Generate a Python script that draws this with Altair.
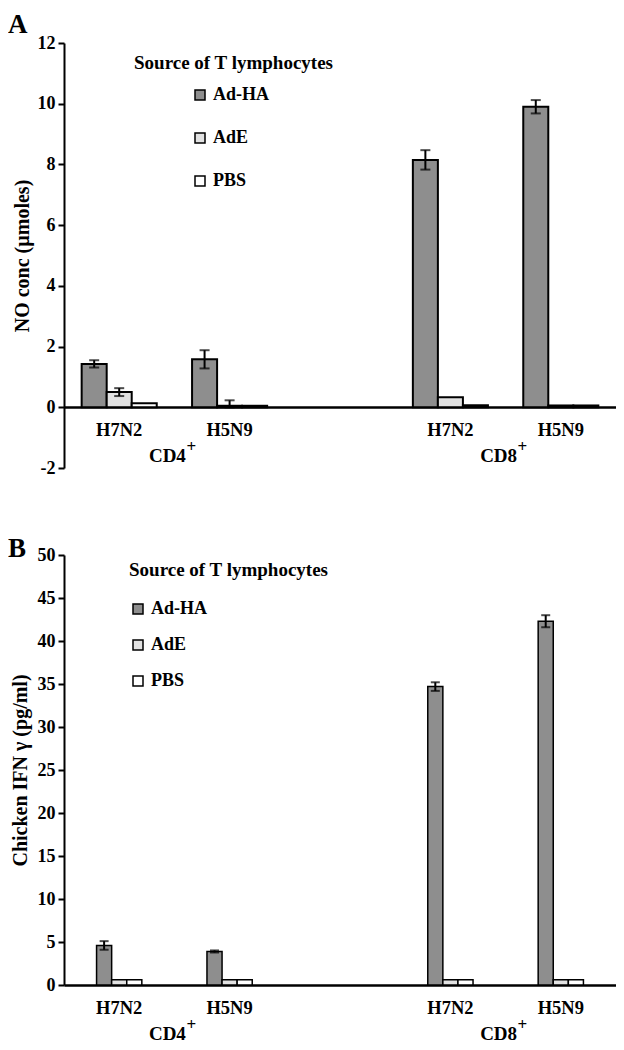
import altair as alt
import pandas as pd

# ---------------- data ----------------
slots = ["CD4 H7N2", "CD4 H5N9", "gap", "CD8 H7N2", "CD8 H5N9"]
data_slots = ["CD4 H7N2", "CD4 H5N9", "CD8 H7N2", "CD8 H5N9"]
strain_labels = ["H7N2", "H5N9", "", "H7N2", "H5N9"]
cell_labels = ["CD4", "CD8"]
cell_label_slots = ["CD4 H7N2", "CD8 H7N2"]
treatments = ["Ad-HA", "AdE", "PBS"]
fills = ["#8e8e8e", "#e2e2e2", "#ffffff"]

# Panel A: NO concentration (µmoles)
no_adha = [1.43, 1.58, 8.15, 9.90]
no_ade = [0.50, 0.05, 0.33, 0.06]
no_pbs = [0.13, 0.05, 0.07, 0.06]
no_adha_err = [0.12, 0.30, 0.32, 0.22]
no_ade_err = [0.13, 0.18, 0.0, 0.0]
no_pbs_err = [0.0, 0.0, 0.0, 0.0]

# Panel B: chicken IFN gamma (pg/ml)
ifn_adha = [4.6, 3.9, 34.7, 42.3]
ifn_ade = [0.6, 0.6, 0.6, 0.6]
ifn_pbs = [0.6, 0.6, 0.6, 0.6]
ifn_adha_err = [0.5, 0.12, 0.5, 0.7]
ifn_ade_err = [0.0, 0.0, 0.0, 0.0]
ifn_pbs_err = [0.0, 0.0, 0.0, 0.0]

FONT = "Liberation Serif"
W = 552
STEP = W / len(slots)


def frame(vals, errs):
    rows = []
    for t, vl, el in zip(treatments, vals, errs):
        for s, v, e in zip(data_slots, vl, el):
            rows.append(dict(slot=s, treatment=t, value=v, err=e,
                             lo=max(v - e, 0.0), hi=v + e))
    return pd.DataFrame(rows)


label_expr = ("[" + ",".join(f"'{l}'" for l in strain_labels) + "][indexof(["
              + ",".join(f"'{s}'" for s in slots) + "], datum.value)]")


def panel(df, letter, letter_y, ytitle, ydomain, yvalues, height, pad_inner,
          axis_offset, legend, title_layer, cap, stroke_w, title_pad):
    xscale = alt.Scale(domain=slots, paddingInner=pad_inner,
                       paddingOuter=pad_inner / 2)
    x = alt.X("slot:N", scale=xscale, title=None,
              axis=alt.Axis(orient="bottom", offset=axis_offset, domain=True,
                            domainColor="black", domainWidth=2.5, ticks=False,
                            labelFont=FONT, labelFontSize=18.5,
                            labelFontWeight="bold", labelColor="black",
                            labelPadding=13, labelAngle=0,
                            labelExpr=label_expr))
    xo = alt.XOffset("treatment:N",
                     scale=alt.Scale(domain=treatments, paddingInner=0,
                                     paddingOuter=0))
    y = alt.Y("value:Q",
              scale=alt.Scale(domain=ydomain, nice=False, zero=False),
              axis=alt.Axis(values=yvalues, title=ytitle, grid=False,
                            domainColor="black", domainWidth=2,
                            tickColor="black", tickWidth=2, tickSize=6,
                            labelFont=FONT, labelFontSize=18,
                            labelFontWeight="bold", labelColor="black",
                            labelPadding=3, labelExpr="datum.value + ''",
                            titleFont=FONT, titleFontSize=20,
                            titleFontWeight="bold", titleColor="black",
                            titlePadding=title_pad, titleLimit=500))
    color = alt.Color("treatment:N",
                      scale=alt.Scale(domain=treatments, range=fills),
                      legend=legend)

    bars = alt.Chart(df).mark_bar(stroke="black", strokeWidth=stroke_w).encode(
        x=x, xOffset=xo, y=y, y2=alt.datum(0), color=color)

    eb = alt.Chart(df).transform_filter("datum.err > 0")
    rule = eb.mark_rule(color="black", strokeWidth=2).encode(
        x="slot:N", xOffset="treatment:N", y="lo:Q", y2="hi:Q")
    cap_hi = eb.mark_tick(color="black", thickness=2, size=cap,
                          orient="horizontal").encode(
        x="slot:N", xOffset="treatment:N", y="hi:Q")
    cap_lo = eb.mark_tick(color="black", thickness=2, size=cap,
                          orient="horizontal").encode(
        x="slot:N", xOffset="treatment:N", y="lo:Q")

    cells = pd.DataFrame({"slot": cell_label_slots, "label": cell_labels})
    cell_text = alt.Chart(cells).mark_text(
        font=FONT, fontSize=19, fontWeight="bold", color="black",
        align="center", baseline="middle", dx=STEP / 2 - 7, dy=49).encode(
        x="slot:N", y=alt.datum(0), text="label:N")
    plus_text = alt.Chart(cells).mark_text(
        font=FONT, fontSize=17, fontWeight="bold", color="black",
        align="left", baseline="middle", dx=STEP / 2 - 7 + 19, dy=40).encode(
        x="slot:N", y=alt.datum(0), text=alt.value("+"))

    letter_text = alt.Chart(pd.DataFrame({"t": [letter]})).mark_text(
        font=FONT, fontSize=27, fontWeight="bold", color="black",
        align="left", baseline="top").encode(
        x=alt.value(-56), y=alt.value(letter_y), text="t:N")

    layers = [bars, rule, cap_hi, cap_lo, cell_text, plus_text, letter_text]
    if title_layer is not None:
        layers.append(title_layer)
    return alt.layer(*layers).properties(width=W, height=height)


legend_a = alt.Legend(orient="none", legendX=127, legendY=43, title=None,
                      symbolType="square", symbolSize=100,
                      symbolStrokeColor="black", symbolStrokeWidth=1.5,
                      labelFont=FONT, labelFontSize=18, labelFontWeight="bold",
                      labelColor="black", rowPadding=25, labelOffset=4,
                      padding=0)
title_a = alt.Chart(pd.DataFrame({"t": ["Source of T lymphocytes"]})).mark_text(
    font=FONT, fontSize=19, fontWeight="bold", color="black",
    align="left", baseline="middle").encode(
    x=alt.value(70), y=alt.value(20), text="t:N")

legend_b = alt.Legend(orient="none", legendX=65, legendY=6,
                      title="Source of T lymphocytes", titleFont=FONT,
                      titleFontSize=19, titleFontWeight="bold",
                      titleColor="black", titlePadding=20, titleLimit=400,
                      symbolType="square", symbolSize=100,
                      symbolStrokeColor="black", symbolStrokeWidth=1.5,
                      labelFont=FONT, labelFontSize=18, labelFontWeight="bold",
                      labelColor="black", rowPadding=18, labelOffset=4,
                      padding=0)

panel_a = panel(frame([no_adha, no_ade, no_pbs],
                      [no_adha_err, no_ade_err, no_pbs_err]),
                "A", -31, "NO conc (µmoles)", [-2, 12], list(range(-2, 13, 2)),
                425, 0.32, -61, legend_a, title_a, 10, 2, 5)
panel_b = panel(frame([ifn_adha, ifn_ade, ifn_pbs],
                      [ifn_adha_err, ifn_ade_err, ifn_pbs_err]),
                "B", -19, "Chicken IFN γ (pg/ml)", [0, 50], list(range(0, 51, 5)),
                430, 0.59, 0, legend_b, None, 9, 1.5, 7)

chart = alt.vconcat(panel_a, panel_b, spacing=58).resolve_scale(
    x="independent", y="independent", color="independent",
    xOffset="independent").resolve_legend(color="independent").properties(
    padding={"top": 3, "left": 0, "right": 0, "bottom": 0}).configure_view(
    stroke=None)

chart.save("out.html", embed_options={"renderer": "svg", "actions": False})
